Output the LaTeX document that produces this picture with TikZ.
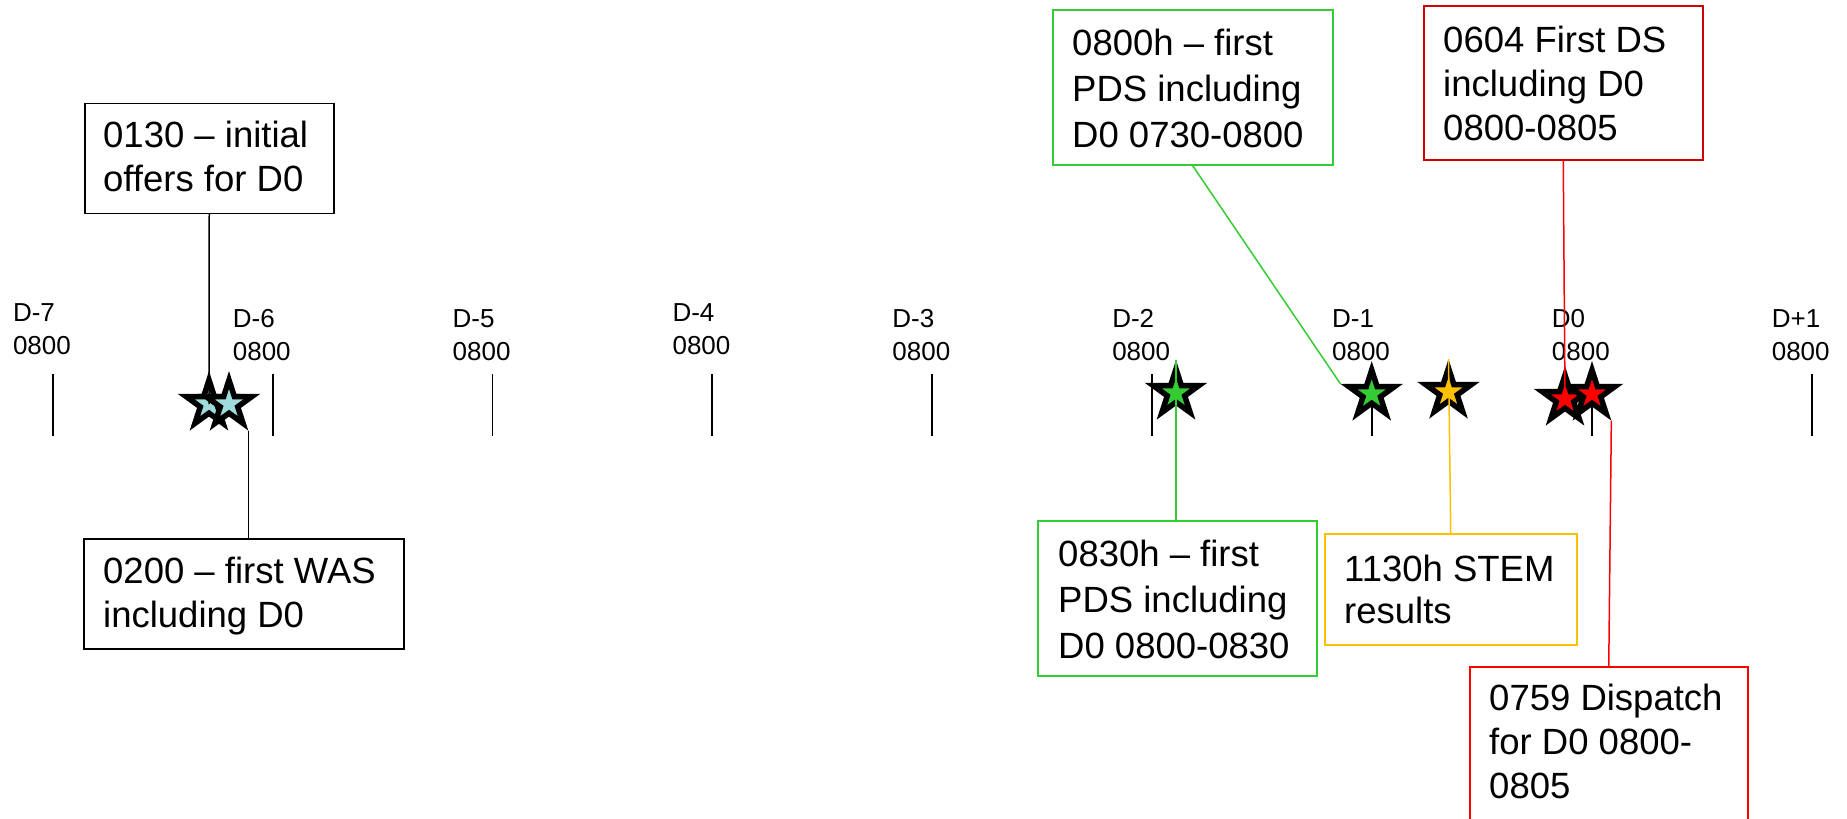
\documentclass[tikz,border=0pt]{standalone}
\usepackage{fontspec}
\setmainfont{Liberation Sans}
\usetikzlibrary{shapes.geometric}
\definecolor{gline}{HTML}{33CC33}
\definecolor{yline}{HTML}{FFC000}
\definecolor{rline}{HTML}{FF0000}
\definecolor{rdark}{HTML}{D00000}
\definecolor{cfill}{HTML}{A0DCDC}
\tikzset{
  boxst/.style={draw, line width=1.5pt, minimum width=#1, inner sep=0pt, anchor=north west, fill=white},
  boxtxt/.style={anchor=base west, align=left, inner sep=0pt, font=\fontsize{36.5}{44}\selectfont},
  axlab/.style={anchor=base west, align=left, inner sep=0pt, font=\fontsize{26}{33}\selectfont},
  starst/.style={star, star points=5, star point ratio=2.618, minimum size=48pt, inner sep=0pt, draw=black, line width=5.5pt, fill=#1},
  conn/.style={line width=1.5pt},
  tick/.style={line width=1.8pt}
}
\begin{document}
\begin{tikzpicture}[x=1pt,y=-1pt]
\useasboundingbox (0,0) rectangle (1847,819);
% axis ticks and labels (anchor = baseline of last line)
\foreach \k/\lab/\bl in {0/D-7/354,1/D-6/360,2/D-5/360,3/D-4/354,4/D-3/360,5/D-2/360,6/D-1/360,7/D0/360,8/D+1/360}{
  \coordinate (t\k a) at (52.8+219.85*\k,374);
  \coordinate (t\k b) at (52.8+219.85*\k,436);
  \draw[tick] (t\k a) -- (t\k b);
  \node[axlab] (lab\k) at (12.8+219.85*\k,\bl) {\lab\\0800};
}
% boxes
\node[boxst=249pt, minimum height=110pt, draw=black] (b1) at (84,102.7) {};
\node[boxtxt] (b1t) at (103,191) {0130 – initial\\offers for D0};
\node[boxst=320pt, minimum height=110pt, draw=black] (b2) at (83,538) {};
\node[boxtxt] (b2t) at (103,627) {0200 – first WAS\\including D0};
\node[boxst=280pt, minimum height=155pt, draw=gline] (g1) at (1052,9.3) {};
\node[boxtxt, font=\fontsize{36.5}{46}\selectfont] (g1t) at (1072,147) {0800h – first\\PDS including\\D0 0730-0800};
\node[boxst=279pt, minimum height=154pt, draw=rdark] (r1) at (1423,5) {};
\node[boxtxt] (r1t) at (1443,140) {0604 First DS\\including D0\\0800-0805};
\node[boxst=279pt, minimum height=155pt, draw=gline] (g2) at (1037,520) {};
\node[boxtxt, font=\fontsize{36.5}{46}\selectfont] (g2t) at (1058,658) {0830h – first\\PDS including\\D0 0800-0830};
\node[boxst=252pt, minimum height=111pt, draw=yline] (y1) at (1324,533) {};
\node[boxtxt, font=\fontsize{36.5}{42}\selectfont] (y1t) at (1344,623) {1130h STEM\\results};
\node[boxst=278pt, minimum height=200pt, draw=rline] (r2) at (1469,666) {};
\node[boxtxt] (r2t) at (1489,798.7) {0759 Dispatch\\for D0 0800-\\0805};
% stars
\node[starst=cfill] (s1) at (209,404) {};
\node[starst=cfill] (s2) at (229,404) {};
\node[starst=gline] (sg2) at (1176,393) {};
\node[starst=gline] (sg1) at (1371.7,394) {};
\node[starst=yline] (sy) at (1448.5,392) {};
\node[starst=rline] (sr1) at (1565,399) {};
\node[starst=rline] (sr2) at (1592,394) {};
% connectors
\draw[conn, black] (b1.south) -- (s1.center);
\draw[conn, black] (s2.outer point 4) -- (s2.outer point 4 |- b2.north);
\draw[conn, gline] (g1.south) -- (sg1.outer point 2);
\draw[conn, gline] (sg2.outer point 1) -- (sg2.outer point 1 |- g2.north);
\draw[conn, yline] (sy.outer point 1) -- (y1.north);
\draw[conn, rline] (r1.south) -- (sr1.center);
\draw[conn, rline] (sr2.outer point 4) -- (r2.north);
\end{tikzpicture}
\end{document}
